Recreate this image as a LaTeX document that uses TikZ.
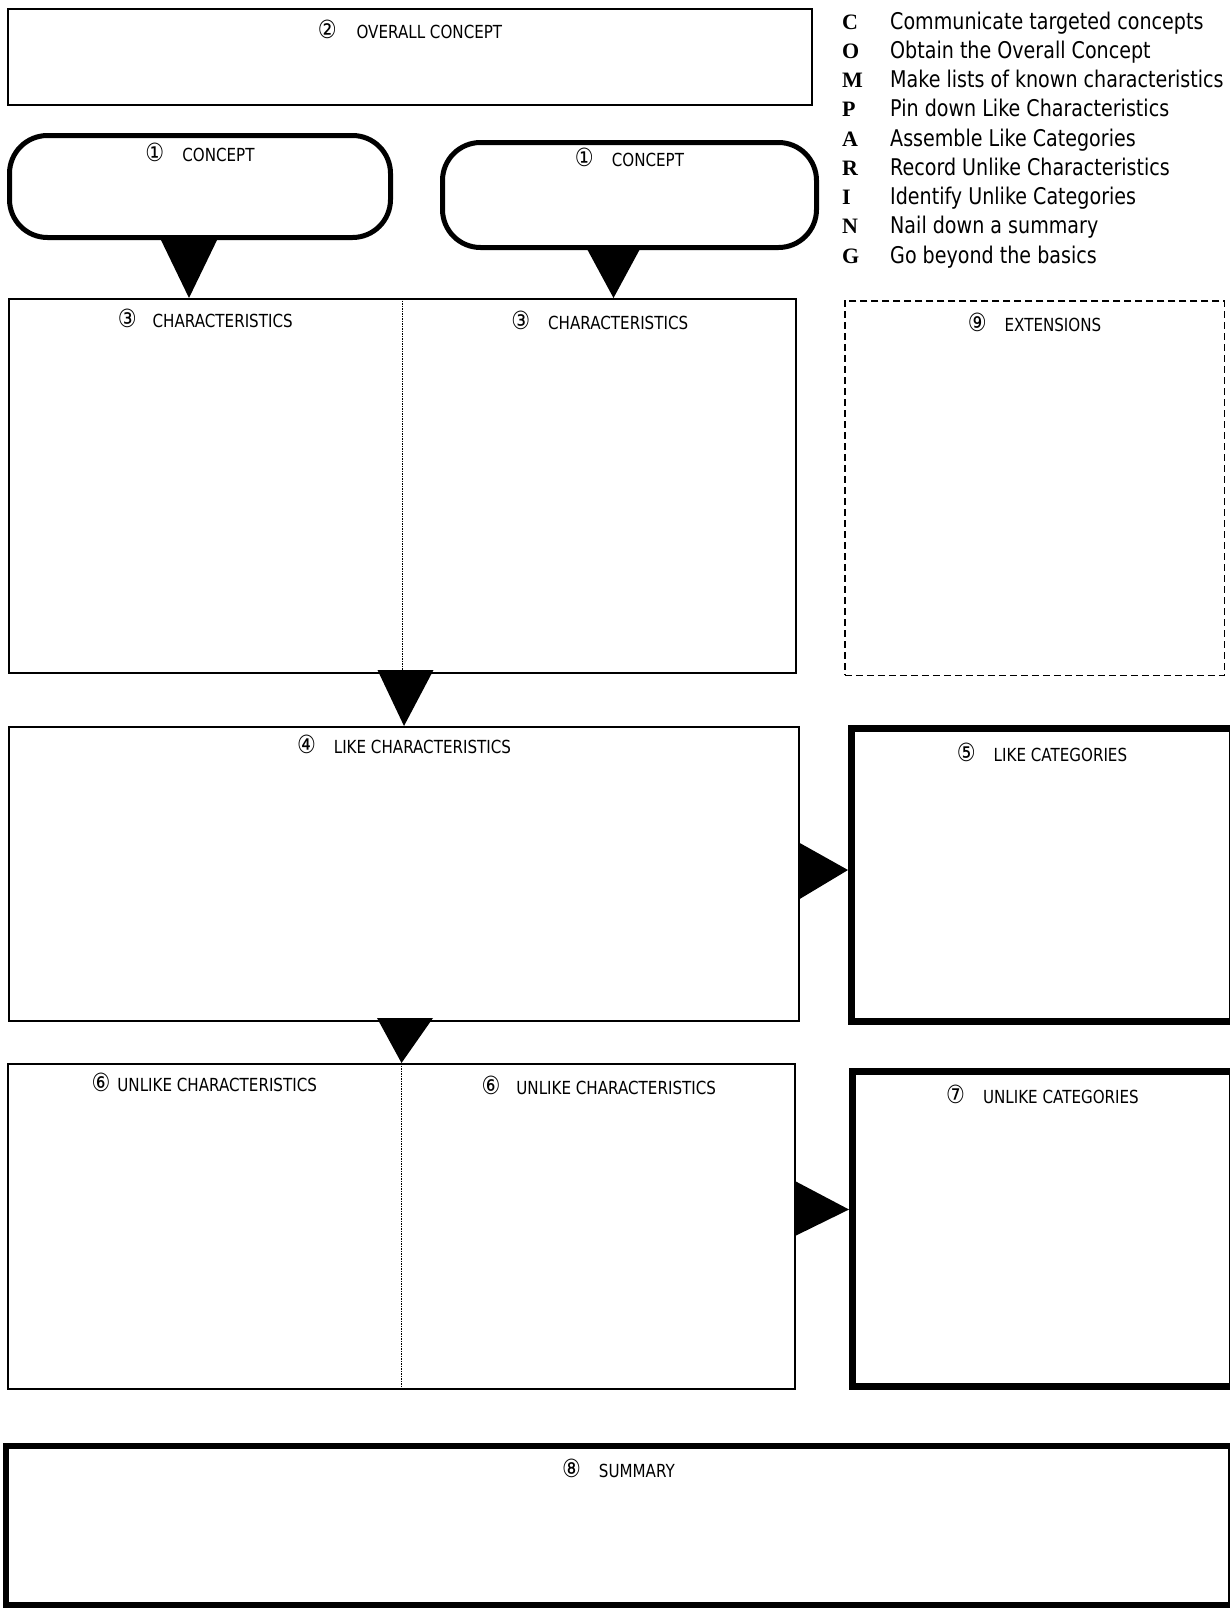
\documentclass[tikz,border=0pt]{standalone}
\usepackage{fontspec}
\newfontfamily\titlefont[FakeStretch=0.84]{DejaVu Sans}
\newfontfamily\keyfont[FakeStretch=0.83]{DejaVu Sans}
\newfontfamily\letterfont{Liberation Serif}
\usetikzlibrary{positioning,calc}
\newcommand{\cnum}[1]{{\fontsize{25}{25}\selectfont #1}}
\tikzset{%
  box/.style={
    draw,
    line width=2pt,
    anchor=north west,
    inner sep=0pt
  },
  thickbox/.style={box, line width=7pt},
  conceptbox/.style={box, line width=5pt, rounded corners=38pt},
  dashbox/.style={box, line width=1.5pt, dash pattern=on 7pt off 4pt},
  boxtitle/.style={font=\titlefont\fontsize{18}{22}\selectfont, inner sep=0pt},
  pointer/.style={fill=black},
  divider/.style={line width=1.5pt, densely dotted},
  keyletter/.style={font=\letterfont\bfseries\fontsize{22}{26}\selectfont, anchor=base west, inner sep=0pt},
  keytext/.style={font=\keyfont\fontsize{23}{27}\selectfont, anchor=base west, inner sep=0pt},
}

\begin{document}
\begin{tikzpicture}[x=1pt,y=-1pt]
  \useasboundingbox (0,0) rectangle (1229,1614);
  % boxes
  \node[box, minimum width=804pt, minimum height=96pt] (overall) at (7,8) {};
  \node[conceptbox, minimum width=381pt, minimum height=102pt] (concA) at (7,133) {};
  \node[conceptbox, minimum width=374pt, minimum height=105pt] (concB) at (440,140) {};
  \node[box, minimum width=787pt, minimum height=374pt] (chars) at (8,298) {};
  \node[dashbox, minimum width=379.5pt, minimum height=374.5pt] (ext) at (844,300) {};
  \node[box, minimum width=790pt, minimum height=294pt] (likeC) at (8,726) {};
  \node[thickbox, minimum width=381pt, minimum height=293pt] (likeG) at (848,725) {};
  \node[box, minimum width=787pt, minimum height=325pt] (unlikeC) at (7,1063) {};
  \node[thickbox, minimum width=380pt, minimum height=315pt] (unlikeG) at (849,1068) {};
  \node[box, line width=6pt, minimum width=1225pt, minimum height=159pt] (summary) at (3,1443) {};
  \draw[divider] (chars.north) -- (chars.south);
  \draw[divider] (unlikeC.north) -- (unlikeC.south);

  % titles
  \node[boxtitle] (overallT) at ($(overall.north)+(0,21)$) {\cnum{②}\hspace{20pt}OVERALL CONCEPT};
  \node[boxtitle] (concAT) at ($(concA.north)+(0,19)$) {\cnum{①}\hspace{18pt}CONCEPT};
  \node[boxtitle] (concBT) at ($(concB.north)+(0,17)$) {\cnum{①}\hspace{18pt}CONCEPT};
  \node[boxtitle] (charsAT) at ($(chars.north west)!.5!(chars.north)+(0,20)$) {\cnum{③}\hspace{16pt}CHARACTERISTICS};
  \node[boxtitle] (charsBT) at ($(chars.north east)!.5!(chars.north)+(0,22)$) {\cnum{③}\hspace{18pt}CHARACTERISTICS};
  \node[boxtitle] (extT) at ($(ext.north)+(0,22)$) {\cnum{⑨}\hspace{18pt}EXTENSIONS};
  \node[boxtitle] (likeCT) at ($(likeC.north)+(0,18)$) {\cnum{④}\hspace{18pt}LIKE CHARACTERISTICS};
  \node[boxtitle] (likeGT) at ($(likeG.north)+(0,27)$) {\cnum{⑤}\hspace{18pt}LIKE CATEGORIES};
  \node[boxtitle] (unlikeAT) at ($(unlikeC.north west)!.5!(unlikeC.north)+(0,19)$) {\cnum{⑥}\hspace{7pt}UNLIKE CHARACTERISTICS};
  \node[boxtitle] (unlikeBT) at ($(unlikeC.north east)!.5!(unlikeC.north)+(0,22)$) {\cnum{⑥}\hspace{16pt}UNLIKE CHARACTERISTICS};
  \node[boxtitle] (unlikeGT) at ($(unlikeG.north)+(0,26)$) {\cnum{⑦}\hspace{18pt}UNLIKE CATEGORIES};
  \node[boxtitle] (summaryT) at ($(summary.north)+(0,25)$) {\cnum{⑧}\hspace{18pt}SUMMARY};

  % pointers
  \coordinate (tipA) at ($(concA.south)+(-11,0)$);
  \coordinate (tipB) at ($(concB.south)+(-16,0)$);
  \coordinate (tipL) at ($(likeC.east)+(0,-4)$);
  \coordinate (tipU) at ($(unlikeC.east)+(0,-17)$);
  \fill[pointer] ($(concA.south)+(-40,-2)$) -- ($(concA.south)+(18,-2)$) -- (tipA |- chars.north) -- cycle;
  \fill[pointer] ($(concB.south)+(-43,-2)$) -- ($(concB.south)+(11,-2)$) -- (tipB |- chars.north) -- cycle;
  \fill[pointer] ($(chars.south)+(-25,-4)$) -- ($(chars.south)+(31,-4)$) -- (likeC.north) -- cycle;
  \fill[pointer] ($(likeC.south)+(-27,-4)$) -- ($(likeC.south)+(29,-4)$) -- (unlikeC.north) -- cycle;
  \fill[pointer] ($(likeC.east)+(-2,-32)$) -- ($(likeC.east)+(-2,26)$) -- (tipL -| likeG.west) -- cycle;
  \fill[pointer] ($(unlikeC.east)+(-2,-46)$) -- ($(unlikeC.east)+(-2,10)$) -- (tipU -| unlikeG.west) -- cycle;

  % key
  \node[keyletter] (kC) at (842,29) {C};
  \node[keyletter] (kO) at ([yshift=-29.25pt]kC.base west) {O};
  \node[keyletter] (kM) at ([yshift=-29.25pt]kO.base west) {M};
  \node[keyletter] (kP) at ([yshift=-29.25pt]kM.base west) {P};
  \node[keyletter] (kA) at ([yshift=-29.25pt]kP.base west) {A};
  \node[keyletter] (kR) at ([yshift=-29.25pt]kA.base west) {R};
  \node[keyletter] (kI) at ([yshift=-29.25pt]kR.base west) {I};
  \node[keyletter] (kN) at ([yshift=-29.25pt]kI.base west) {N};
  \node[keyletter] (kG) at ([yshift=-29.25pt]kN.base west) {G};
  \node[keytext] (tC) at ([xshift=48pt]kC.base west) {Communicate targeted concepts};
  \node[keytext] (tO) at ([xshift=48pt]kO.base west) {Obtain the Overall Concept};
  \node[keytext] (tM) at ([xshift=48pt]kM.base west) {Make lists of known characteristics};
  \node[keytext] (tP) at ([xshift=48pt]kP.base west) {Pin down Like Characteristics};
  \node[keytext] (tA) at ([xshift=48pt]kA.base west) {Assemble Like Categories};
  \node[keytext] (tR) at ([xshift=48pt]kR.base west) {Record Unlike Characteristics};
  \node[keytext] (tI) at ([xshift=48pt]kI.base west) {Identify Unlike Categories};
  \node[keytext] (tN) at ([xshift=48pt]kN.base west) {Nail down a summary};
  \node[keytext] (tG) at ([xshift=48pt]kG.base west) {Go beyond the basics};
\end{tikzpicture}
\end{document}
